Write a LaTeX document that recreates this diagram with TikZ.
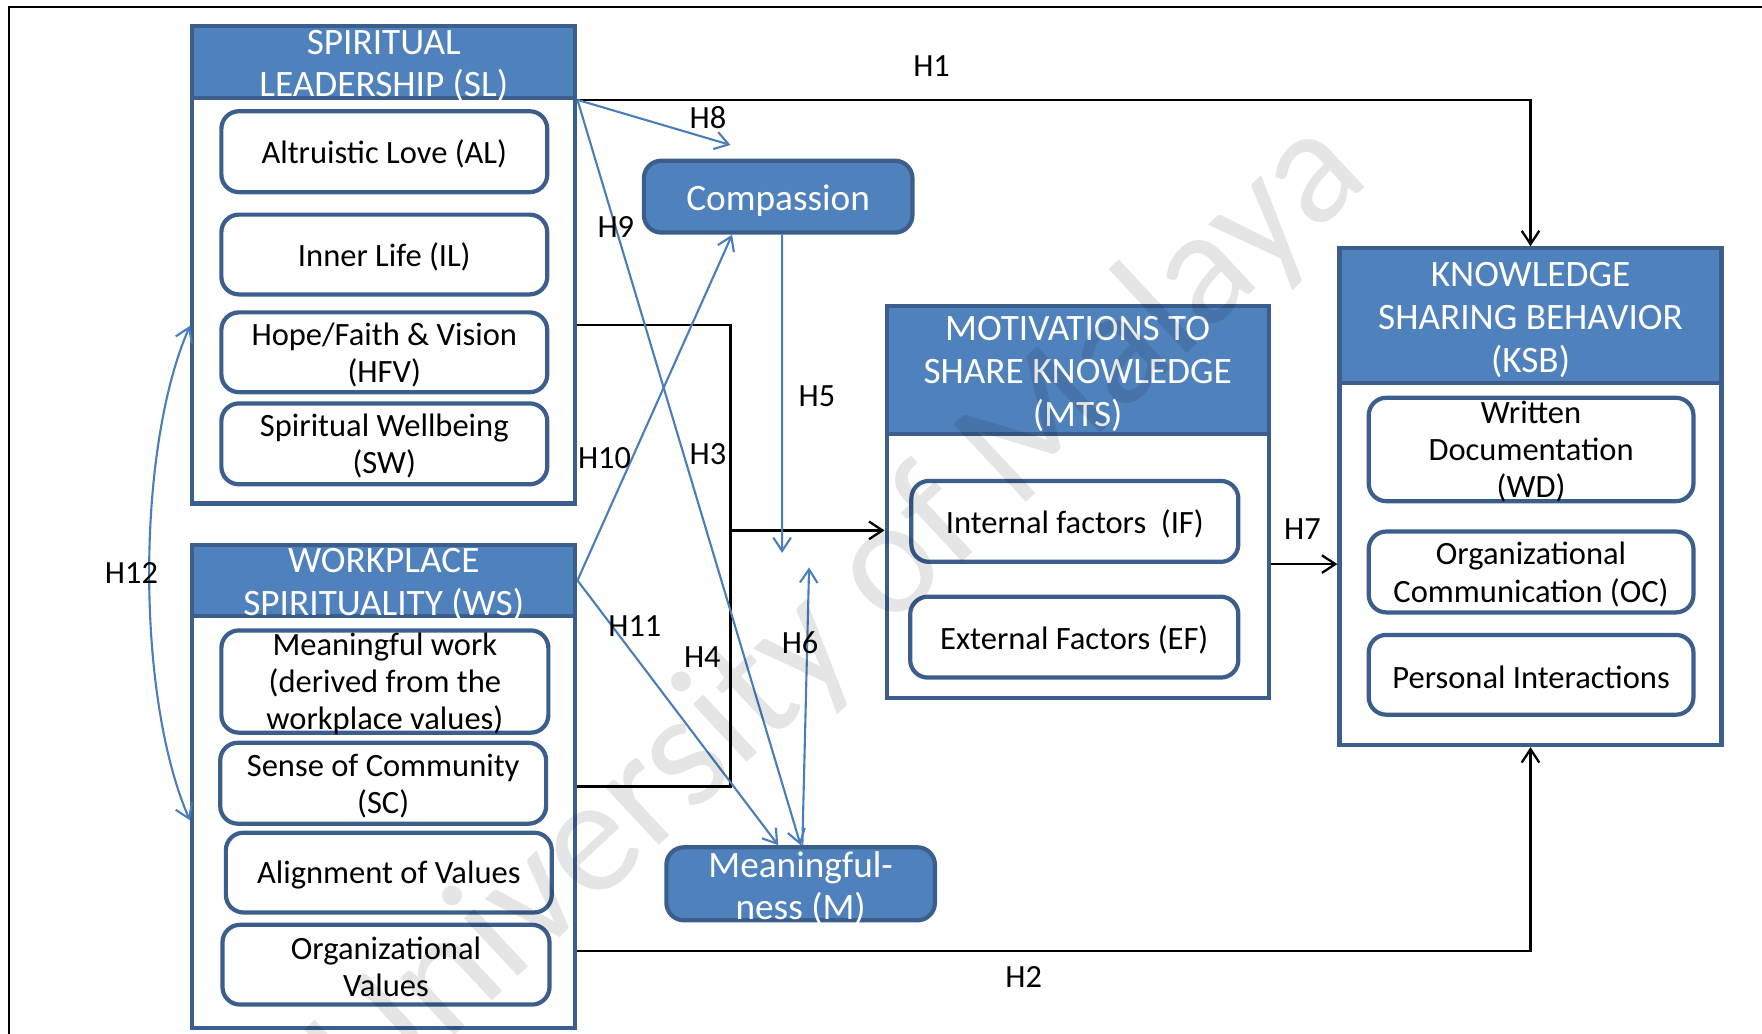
\documentclass[tikz,border=0pt]{standalone}
\usepackage{fontspec}
\setmainfont{Carlito}
\usetikzlibrary{arrows.meta,fit,calc}
\definecolor{hdrblue}{HTML}{4F81BD}
\definecolor{edgeblue}{HTML}{3B5E8C}
\definecolor{linkblue}{HTML}{4A7EBB}
\newcommand{\pxu}{0.011237cm}
\begin{document}
\begin{tikzpicture}[x=\pxu, y=-\pxu,
  container/.style={draw=edgeblue, line width=1.2pt, fill=white, inner sep=0pt},
  header/.style={draw=edgeblue, line width=1.2pt, fill=hdrblue, inner sep=0pt},
  hdrtext/.style={text=white, align=center, inner sep=0pt, yshift=-1.2pt, font=\fontsize{10.6}{12.2}\selectfont},
  item/.style={draw=edgeblue, line width=1.2pt, rounded corners=5pt, fill=white, inner sep=0pt},
  itemtext/.style={align=center, inner sep=0pt, yshift=-0.7pt, font=\fontsize{9.25}{10.55}\selectfont},
  mediator/.style={draw=edgeblue, line width=1.2pt, rounded corners=5pt, fill=hdrblue, inner sep=0pt},
  medtext/.style={text=white, align=center, inner sep=0pt, yshift=-1.2pt, font=\fontsize{10.6}{11.8}\selectfont},
  hlabel/.style={inner sep=0pt, font=\fontsize{9.2}{11}\selectfont},
  blk/.style={draw=black, line width=0.65pt},
  blu/.style={draw=linkblue, line width=0.6pt},
  tip/.style={-{Straight Barb[length=3.8pt, width=5pt]}},
  bothtips/.style={{Straight Barb[length=3.8pt, width=5pt]}-{Straight Barb[length=3.8pt, width=5pt]}},
]
\useasboundingbox (0,0) rectangle (1568,920);

% page frame (top and left edges)
\draw[line width=0.7pt] (8,920) -- (8,6) -- (1568,6);

% ---- Spiritual Leadership ----
\node[container, fit={(171,23)(512,448)}] (sl) {};
\node[header, fit={(171,23)(512,87)}] (slh) {};
\node[hdrtext] (slt) at (slh) {SPIRITUAL\\LEADERSHIP (SL)};
\node[item, fit={(197,99)(487,171)}] (al) {};
\node[itemtext] (alt) at (al) {Altruistic Love (AL)};
\node[item, fit={(197,191)(487,262)}] (il) {};
\node[itemtext] (ilt) at (il) {Inner Life (IL)};
\node[item, fit={(197,278)(487,349)}] (hfv) {};
\node[itemtext] (hfvt) at (hfv) {Hope/Faith \& Vision\\(HFV)};
\node[item, fit={(197,359)(487,431)}] (sw) {};
\node[itemtext] (swt) at (sw) {Spiritual Wellbeing\\(SW)};

% ---- Workplace Spirituality ----
\node[container, fit={(171,485)(512,915)}] (ws) {};
\node[header, fit={(171,485)(512,548)}] (wsh) {};
\node[hdrtext] (wst) at (wsh) {WORKPLACE\\SPIRITUALITY (WS)};
\node[item, fit={(197,561)(488,652)}] (mw) {};
\node[itemtext] (mwt) at (mw) {Meaningful work\\(derived from the\\workplace values)};
\node[item, fit={(196,661)(486,733)}] (sc) {};
\node[itemtext] (sct) at (sc) {Sense of Community\\(SC)};
\node[item, fit={(201,741)(491,812)}] (av) {};
\node[itemtext] (avt) at (av) {Alignment of Values};
\node[item, fit={(198,823)(489,894)}] (ov) {};
\node[itemtext] (ovt) at (ov) {Organizational\\Values};

% ---- Mediators ----
\node[mediator, fit={(573,143)(812,207)}] (comp) {};
\node[medtext] (compt) at (comp) {Compassion};
\node[mediator, fit={(593,754)(832,819)}] (mng) {};
\node[medtext] (mngt) at (mng) {Meaningful-\\ness (M)};

% ---- Motivations to share knowledge ----
\node[container, fit={(789,272)(1129,621)}] (mts) {};
\node[header, fit={(789,272)(1129,386)}] (mtsh) {};
\node[hdrtext] (mtst) at (mtsh) {MOTIVATIONS TO\\SHARE KNOWLEDGE\\(MTS)};
\node[item, fit={(811,428)(1102,500)}] (if) {};
\node[itemtext] (ift) at (if) {Internal factors\ \ (IF)};
\node[item, fit={(810,531)(1102,603)}] (ef) {};
\node[itemtext] (eft) at (ef) {External Factors (EF)};

% ---- Knowledge sharing behavior ----
\node[container, fit={(1192,221)(1532,663)}] (ksb) {};
\node[header, fit={(1192,221)(1532,341)}] (ksbh) {};
\node[hdrtext] (ksbt) at (ksbh) {KNOWLEDGE\\SHARING BEHAVIOR\\(KSB)};
\node[item, fit={(1218,354)(1507,446)}] (wd) {};
\node[itemtext] (wdt) at (wd) {Written\\Documentation\\(WD)};
\node[item, fit={(1218,473)(1507,545)}] (oc) {};
\node[itemtext] (oct) at (oc) {Organizational\\Communication (OC)};
\node[item, fit={(1218,565)(1507,636)}] (pi) {};
\node[itemtext] (pit) at (pi) {Personal Interactions};

% ---- junctions and free ends ----
\coordinate (jtop) at (650,289);
\coordinate (jmid) at (650,472);
\coordinate (jbot) at (650,700);
\coordinate (h8end) at (650,129);
\coordinate (h5end) at (696,492);
\coordinate (h6end) at (720,505);
\coordinate (h12a) at (169,290);
\coordinate (h12b) at (169,730);
\coordinate (h7y) at (0,502);
\coordinate (h2y) at (0,846);

% ---- black paths ----
\draw[blk, tip] (slh.south east) -- (ksb.north |- slh.south east) -- (ksb.north);
\draw[blk, tip] (ws.east |- h2y) -- (ksb.south |- h2y) -- (ksb.south);
\draw[blk] (sl.east |- jtop) -- (jtop) -- (jbot) -- (ws.east |- jbot);
\draw[blk, tip] (jmid) -- (mts.west |- jmid);
\draw[blk, tip] (mts.east |- h7y) -- (ksb.west |- h7y);

% ---- blue paths ----
\draw[blu, tip] (slh.south east) -- (h8end);
\draw[blu, tip] (slh.south east) -- (mng.north);
\draw[blu, tip] (wsh.east) -- ($(comp.south)+(-41,0)$);
\draw[blu, tip] (wsh.east) -- ($(mng.north)+(-20,0)$);
\draw[blu, tip] ($(comp.south)+(3.5,0)$) -- (h5end);
\draw[blu, tip] ($(mng.north)+(1.5,0)$) -- (h6end);
\draw[blu, bothtips] (h12a) .. controls (121,400) and (121,620) .. (h12b);

% ---- hypothesis labels ----
\node[hlabel] (lh1) at (829,59) {H1};
\node[hlabel] (lh2) at (911,869) {H2};
\node[hlabel] (lh3) at (630,404) {H3};
\node[hlabel] (lh4) at (625,585) {H4};
\node[hlabel] (lh5) at (727,353) {H5};
\node[hlabel] (lh6) at (712,572) {H6};
\node[hlabel] (lh7) at (1159,471) {H7};
\node[hlabel] (lh8) at (630,105) {H8};
\node[hlabel] (lh9) at (548,202) {H9};
\node[hlabel] (lh10) at (538,408) {H10};
\node[hlabel] (lh11) at (565,557) {H11};
\node[hlabel] (lh12) at (117,510) {H12};

% ---- faint repository watermark ----
\node[text=black, opacity=0.1, rotate=43, inner sep=0pt,
      font=\fontsize{47}{50}\selectfont] (wm) at (748,548) {University of Malaya};
\end{tikzpicture}
\end{document}
